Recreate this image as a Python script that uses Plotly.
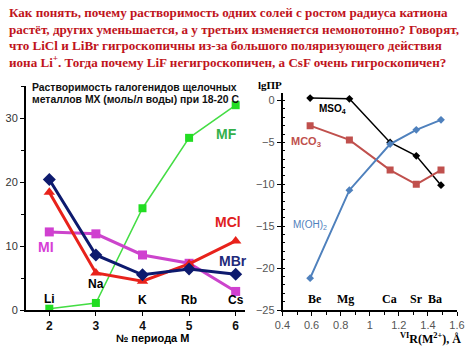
import plotly.graph_objects as go

# ---------- data: left chart (solubility, mol/L water, 18-20 C) ----------
periods = [2, 3, 4, 5, 6]
alkali = ["Li", "Na", "K", "Rb", "Cs"]
mf = [0.2, 1.1, 15.9, 26.9, 32.0]
mcl = [18.4, 5.8, 4.5, 7.2, 10.8]
mbr = [20.4, 8.6, 5.5, 6.4, 5.6]
mi = [12.2, 11.9, 8.6, 7.3, 2.9]

# ---------- data: right chart (lg SP vs crystal radius) ----------
radii = [0.59, 0.86, 1.14, 1.32, 1.49]
earth = ["Be", "Mg", "Ca", "Sr", "Ba"]
mso4 = [0.3, 0.2, -5.0, -6.6, -10.1]
mco3 = [-3.0, -4.7, -8.3, -10.0, -8.3]
moh2 = [-21.2, -10.7, -5.2, -3.5, -2.3]

header_lines = [
    "Как понять, почему растворимость одних солей с ростом радиуса катиона",
    "растёт, других уменьшается, а у третьих изменяется немонотонно? Говорят,",
    "что LiCl и LiBr гигроскопичны из-за большого поляризующего действия",
    "иона Li<sup>+</sup>. Тогда почему LiF негигроскопичен, а CsF очень гигроскопичен?",
]

W, H = 474, 355
def px(x):
    return x / W
def py(y):
    return 1 - y / H

fig = go.Figure()

# left chart traces
fig.add_trace(go.Scatter(x=periods, y=mf, mode="lines+markers",
                         line=dict(color="#44dd44", width=1.5),
                         marker=dict(symbol="square", size=8, color="#22dd22"),
                         xaxis="x", yaxis="y", showlegend=False))
fig.add_trace(go.Scatter(x=periods, y=mi, mode="lines+markers",
                         line=dict(color="#cc44cc", width=3),
                         marker=dict(symbol="square", size=9, color="#d040d0"),
                         xaxis="x", yaxis="y", showlegend=False))
fig.add_trace(go.Scatter(x=periods, y=mcl, mode="lines+markers",
                         line=dict(color="#e8221b", width=3),
                         marker=dict(symbol="triangle-up", size=10, color="#e8221b"),
                         xaxis="x", yaxis="y", showlegend=False))
fig.add_trace(go.Scatter(x=periods, y=mbr, mode="lines+markers",
                         line=dict(color="#0d1a6e", width=3),
                         marker=dict(symbol="diamond", size=10, color="#0d1a6e"),
                         xaxis="x", yaxis="y", showlegend=False))

# right chart traces
fig.add_trace(go.Scatter(x=radii, y=mso4, mode="lines+markers",
                         line=dict(color="#000000", width=1.5),
                         marker=dict(symbol="diamond", size=6, color="#000000"),
                         xaxis="x2", yaxis="y2", showlegend=False))
fig.add_trace(go.Scatter(x=radii, y=mco3, mode="lines+markers",
                         line=dict(color="#c0504d", width=2),
                         marker=dict(symbol="square", size=7, color="#c0504d"),
                         xaxis="x2", yaxis="y2", showlegend=False))
fig.add_trace(go.Scatter(x=radii, y=moh2, mode="lines+markers",
                         line=dict(color="#4f81bd", width=2),
                         marker=dict(symbol="diamond", size=6, color="#4f81bd"),
                         xaxis="x2", yaxis="y2", showlegend=False))

ann = []
# header
header_y = [13, 29.5, 45, 61]
for t, yy in zip(header_lines, header_y):
    ann.append(dict(text="<b>" + t + "</b>", xref="paper", yref="paper",
                    x=px(7), y=py(yy), xanchor="left", yanchor="middle",
                    showarrow=False,
                    font=dict(family="Liberation Serif", size=13.1, color="#c0141c")))

# left chart title
for t, yy in zip(["Растворимость галогенидов щелочных",
                  "металлов MX (моль/л воды) при 18-20 C"], [87, 99]):
    ann.append(dict(text="<b>" + t + "</b>", xref="paper", yref="paper",
                    x=px(30), y=py(yy), xanchor="left", yanchor="middle",
                    showarrow=False,
                    font=dict(family="Liberation Sans", size=10.4, color="#111111")))

# element labels left
alk_y = [1.7, 4.1, 1.5, 1.5, 1.5]
for name, xx, yy in zip(alkali, periods, alk_y):
    ann.append(dict(text="<b>" + name + "</b>", x=xx, y=yy, xref="x", yref="y",
                    showarrow=False, xanchor="center", yanchor="middle",
                    font=dict(family="Liberation Sans", size=12, color="#000000")))

# series labels left
for txt, xx, yy, col in [("MF", 5.81, 27.5, "#33b04a"), ("MCl", 5.84, 13.7, "#e02020"),
                         ("MBr", 5.95, 7.7, "#1f2a7a"), ("MI", 1.93, 9.8, "#d63ed6")]:
    ann.append(dict(text="<b>" + txt + "</b>", x=xx, y=yy, xref="x", yref="y",
                    showarrow=False, xanchor="center", yanchor="middle",
                    font=dict(family="Liberation Sans", size=14, color=col)))

# left x title
ann.append(dict(text="<b>№ периода M</b>", xref="paper", yref="paper",
                x=px(152), y=py(338), showarrow=False, xanchor="center", yanchor="middle",
                font=dict(family="Liberation Sans", size=11, color="#000000")))

# right chart labels
ann.append(dict(text="<b>lgПР</b>", xref="paper", yref="paper",
                x=px(270), y=py(85), showarrow=False, xanchor="center", yanchor="middle",
                font=dict(family="Liberation Serif", size=11, color="#000000")))
ann.append(dict(text="<b>MSO<sub>4</sub></b>", x=0.742, y=-1.0, xref="x2", yref="y2",
                showarrow=False, xanchor="center", yanchor="middle",
                font=dict(family="Liberation Sans", size=10, color="#000000")))
ann.append(dict(text="<b>MCO<sub>3</sub></b>", x=0.565, y=-5.0, xref="x2", yref="y2",
                showarrow=False, xanchor="center", yanchor="middle",
                font=dict(family="Liberation Sans", size=11, color="#c0504d")))
ann.append(dict(text="M(OH)<sub>2</sub>", x=0.588, y=-14.9, xref="x2", yref="y2",
                showarrow=False, xanchor="center", yanchor="middle",
                font=dict(family="Liberation Sans", size=10, color="#4f81bd")))
earth_x = [0.623, 0.834, 1.133, 1.324, 1.45]
for name, xx in zip(earth, earth_x):
    ann.append(dict(text="<b>" + name + "</b>", x=xx, y=-23.7, xref="x2", yref="y2",
                    showarrow=False, xanchor="center", yanchor="middle",
                    font=dict(family="Liberation Serif", size=12, color="#000000")))
ann.append(dict(text="<b><sup>VI</sup>R(M<sup>2+</sup>), Å</b>", xref="paper", yref="paper",
                x=px(430), y=py(338), showarrow=False, xanchor="center", yanchor="middle",
                font=dict(family="Liberation Serif", size=12, color="#000000")))

fig.update_layout(
    template="none",
    width=W, height=H,
    margin=dict(l=0, r=0, t=0, b=0, pad=0, autoexpand=False),
    paper_bgcolor="white", plot_bgcolor="white",
    annotations=ann,
    xaxis=dict(domain=[px(26), px(245)], range=[1.5, 6.2], anchor="y", automargin=False,
               tickmode="array", tickvals=periods, ticktext=["<b>%d</b>" % p for p in periods],
               showgrid=False, zeroline=False, showline=True, linecolor="#000000", linewidth=2,
               ticks="outside", ticklen=4, tickcolor="#000000",
               tickfont=dict(family="Liberation Sans", size=12, color="#111111")),
    yaxis=dict(domain=[1 - 310 / H, 1 - 86 / H], range=[0, 35], anchor="x", automargin=False,
               tickvals=[0, 10, 20, 30], showgrid=False, zeroline=False,
               showline=True, linecolor="#000000", linewidth=2,
               ticks="outside", ticklen=4, tickcolor="#000000",
               minor=dict(tickvals=[5, 15, 25, 35], ticks="outside", ticklen=3, tickcolor="#000000"),
               tickfont=dict(family="Liberation Sans", size=11, color="#333333")),
    xaxis2=dict(domain=[px(282.5), px(457)], range=[0.4, 1.6], anchor="y2", automargin=False,
                dtick=0.2, tickformat="~g", showgrid=False, zeroline=False,
                showline=True, linecolor="#000000", linewidth=1.5,
                ticks="outside", ticklen=4, tickcolor="#000000",
                minor=dict(dtick=0.1, ticks="outside", ticklen=3, tickcolor="#000000"),
                tickfont=dict(family="Liberation Sans", size=11, color="#555555")),
    yaxis2=dict(domain=[1 - 310 / H, 1 - 93 / H], range=[-25, 0.9], anchor="x2", automargin=False,
                dtick=5, showgrid=False, zeroline=False,
                showline=True, linecolor="#000000", linewidth=1.5,
                ticks="outside", ticklen=4, tickcolor="#000000",
                minor=dict(dtick=1, ticks="inside", ticklen=3, tickcolor="#000000"),
                tickfont=dict(family="Liberation Sans", size=11, color="#555555")),
)

fig.write_html("out.html", config={"displayModeBar": False},
               post_script="document.body.style.margin='0px';document.body.style.overflow='hidden';")
